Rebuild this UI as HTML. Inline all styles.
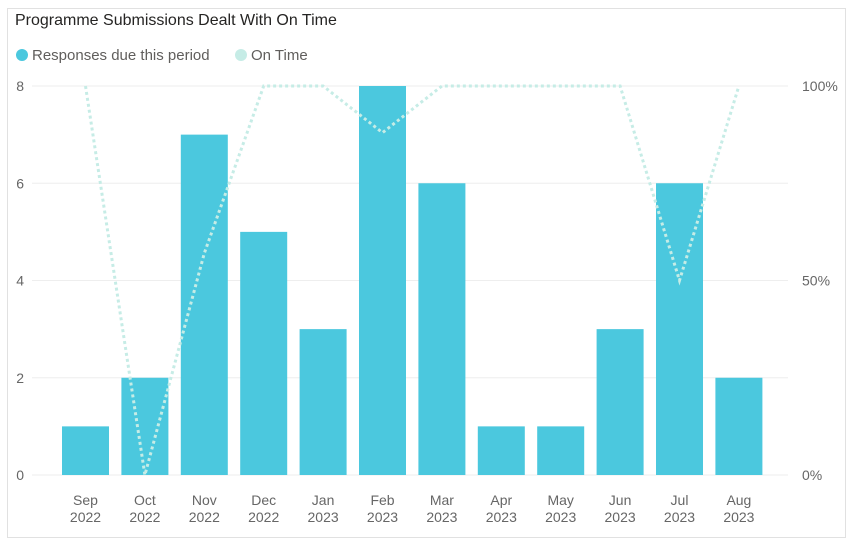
<!DOCTYPE html>
<html><head><meta charset="utf-8"><style>
body{margin:0;background:#fff;font-family:"Liberation Sans",sans-serif;}
#wrap{position:relative;width:852px;height:547px;}
</style></head><body>
<div id="wrap">
<svg id="chart" width="852" height="547" xmlns="http://www.w3.org/2000/svg">
<rect x="7.5" y="8.5" width="838" height="529" fill="#fff" stroke="#e1e1e1"/>
<text x="15" y="25" font-size="16" fill="#252423">Programme Submissions Dealt With On Time</text>
<g>
<circle cx="22" cy="55" r="6" fill="#4bc8de"/>
<text x="32" y="60" font-size="15" fill="#605e5c">Responses due this period</text>
<circle cx="241" cy="55" r="6" fill="#c6ece6"/>
<text x="251" y="60" font-size="15" fill="#605e5c">On Time</text>
</g>
<g id="grid"></g><g id="bars"></g><g id="line"></g><g id="axes"></g>
</svg>
</div>
<script>
const months=["Sep","Oct","Nov","Dec","Jan","Feb","Mar","Apr","May","Jun","Jul","Aug"];
const years=["2022","2022","2022","2022","2023","2023","2023","2023","2023","2023","2023","2023"];
const responses=[1,2,7,5,3,8,6,1,1,3,6,2];
const onTime=[100,0,57,100,100,88,100,100,100,100,50,100];
const leftTicks=[0,2,4,6,8];
const rightTicks=[0,50,100];
const NS="http://www.w3.org/2000/svg";
const y0=475,y1=86,x0=85.5,step=59.4,bw=47;
const yL=v=>y0-(v/8)*(y0-y1);
const yR=v=>y0-(v/100)*(y0-y1);
const xB=i=>x0+i*step;
function mk(t,a,p){const e=document.createElementNS(NS,t);for(const k in a)e.setAttribute(k,a[k]);document.getElementById(p).appendChild(e);return e;}
leftTicks.forEach(v=>{
 const l=mk("line",{x1:32,x2:788,y1:yL(v),y2:yL(v),stroke:"#eeeeee","stroke-width":1},"grid");
 
 
 const t=mk("text",{x:24,y:yL(v)+5,"font-size":14,fill:"#666","text-anchor":"end"},"axes");
 t.textContent=v;
 
 
});
rightTicks.forEach(v=>{
 const t=mk("text",{x:802,y:yR(v)+5,"font-size":14,fill:"#666"},"axes");
 t.textContent=v+"%";
 
 
});
responses.forEach((v,i)=>{
 const r=mk("rect",{x:xB(i)-bw/2,y:yL(v),width:bw,height:y0-yL(v),fill:"#4bc8de"},"bars");
 
 
 const t=mk("text",{x:xB(i),y:505,"font-size":14,fill:"#666","text-anchor":"middle"},"axes");
 t.textContent=months[i];
 
 
 const t2=mk("text",{x:xB(i),y:522,"font-size":14,fill:"#666","text-anchor":"middle"},"axes");
 t2.textContent=years[i];
 
 
});
const pts=onTime.map((v,i)=>xB(i)+","+yR(v)).join(" ");
const pl=mk("polyline",{points:pts,fill:"none",stroke:"#c6ece6","stroke-width":3,"stroke-dasharray":"3 3"},"line");


</script>
</body></html>
